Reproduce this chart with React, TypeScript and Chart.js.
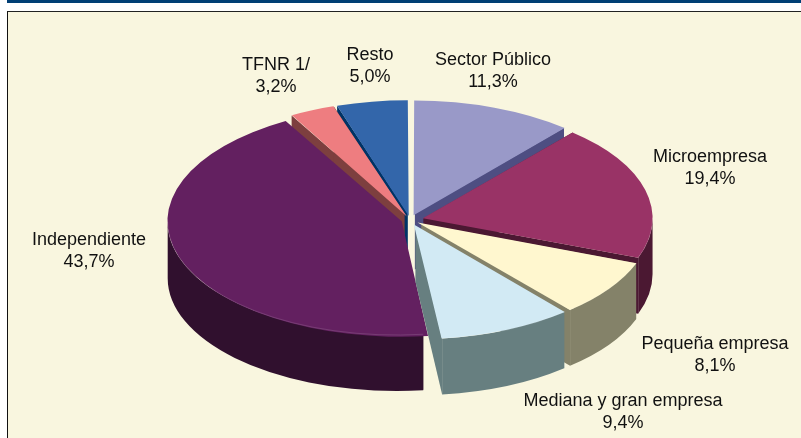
import React, { useEffect, useRef } from "react";
import { Chart, registerables } from "chart.js";

Chart.register(...registerables);

const categories = ["Sector Público", "Microempresa", "Pequeña empresa", "Mediana y gran empresa", "Independiente", "TFNR 1/", "Resto"];
const shares = [11.3, 19.4, 8.1, 9.4, 43.7, 3.2, 5.0];
const shareLabels = ["11,3%", "19,4%", "8,1%", "9,4%", "43,7%", "3,2%", "5,0%"];

const topColors = ["#9999C8", "#993366", "#FFF7CF", "#D2EAF4", "#632060", "#EE7D80", "#3366AA"];
const wallColors = ["#4E4E82", "#4B1832", "#848269", "#677F80", "#30102E", "#7D3F3F", "#003366"];

const labelAnchors: [number, number][] = [
  [493, 60], [710, 157], [715, 344], [623, 401], [89, 240], [276, 65], [370, 55],
];

const FLATTEN = 0.493;
const DEPTH = 56;
const EXPLODE = 14;
const RADIUS = 229;
const FONT = '18px "Liberation Sans", Arial, sans-serif';
const LINE = 21.8;

// Chart.js moves an arc by offset/4 * (2 - sin(sweep)); solve for a uniform explosion.
const total = shares.reduce((a, b) => a + b, 0);
const offsets = shares.map((v) => {
  const sweep = (v / total) * Math.PI * 2;
  return (EXPLODE * 4) / (2 - Math.sin(Math.min(Math.PI, sweep)));
});

const pie3d = {
  id: "pie3d",
  beforeDatasetsDraw(chart: any) {
    const { ctx } = chart;
    const arcs: any[] = chart.getDatasetMeta(0).data;
    const order = arcs
      .map((el, i) => ({ el, i, y: Math.sin((el.startAngle + el.endAngle) / 2) }))
      .sort((a, b) => a.y - b.y);
    for (const { el, i } of order) {
      const { startAngle: a0, endAngle: a1, outerRadius: r } = el;
      const mid = (a0 + a1) / 2;
      const ax = el.x + Math.cos(mid) * EXPLODE;
      const ay = el.y + Math.sin(mid) * EXPLODE * FLATTEN;
      const rimX = (a: number) => ax + Math.cos(a) * r;
      const rimY = (a: number) => ay + Math.sin(a) * r * FLATTEN;
      const from = Math.max(a0, 0);
      const to = Math.min(a1, Math.PI);

      ctx.save();
      ctx.fillStyle = wallColors[i];
      // cut faces
      for (const a of [a0, a1]) {
        ctx.beginPath();
        ctx.moveTo(ax, ay);
        ctx.lineTo(rimX(a), rimY(a));
        ctx.lineTo(rimX(a), rimY(a) + DEPTH);
        ctx.lineTo(ax, ay + DEPTH);
        ctx.closePath();
        ctx.fill();
      }
      // outer band, front half only
      if (to > from) {
        ctx.beginPath();
        ctx.ellipse(ax, ay, r, r * FLATTEN, 0, from, to, false);
        ctx.ellipse(ax, ay + DEPTH, r, r * FLATTEN, 0, to, from, true);
        ctx.closePath();
        ctx.fill();
      }
      ctx.restore();

      // top face, drawn by the library's own arc element
      ctx.save();
      ctx.translate(0, el.y * (1 - FLATTEN));
      ctx.scale(1, FLATTEN);
      el.draw(ctx);
      ctx.restore();

      // thin highlight along the front rim
      if (to > from) {
        ctx.save();
        ctx.strokeStyle = "rgba(255,255,255,0.18)";
        ctx.lineWidth = 0.7;
        ctx.beginPath();
        ctx.ellipse(ax, ay, r, r * FLATTEN, 0, from, to, false);
        ctx.stroke();
        ctx.restore();
      }
    }
    return false;
  },
  afterDraw(chart: any) {
    const { ctx } = chart;
    ctx.save();
    ctx.font = FONT;
    ctx.fillStyle = "#111111";
    ctx.textAlign = "center";
    ctx.textBaseline = "middle";
    categories.forEach((name, i) => {
      const [x, y] = labelAnchors[i];
      ctx.fillText(name, x, y);
      ctx.fillText(shareLabels[i], x, y + LINE);
    });
    ctx.restore();
  },
};

export default function App() {
  const ref = useRef<HTMLCanvasElement>(null);
  useEffect(() => {
    const chart = new Chart(ref.current!, {
      type: "pie",
      data: {
        labels: categories,
        datasets: [
          {
            data: shares,
            backgroundColor: topColors,
            borderWidth: 0,
            offset: offsets,
            radius: RADIUS,
          } as any,
        ],
      },
      options: {
        responsive: false,
        animation: false,
        rotation: 0,
        layout: { padding: { left: 19, right: 0, top: 2, bottom: 0 } },
        plugins: { legend: { display: false }, tooltip: { enabled: false } },
      },
      plugins: [pie3d],
    });
    return () => chart.destroy();
  }, []);

  return (
    <div style={{ position: "relative", width: 801, height: 438, overflow: "hidden", background: "#fff" }}>
      <style>{"body{margin:0}"}</style>
      <div style={{ position: "absolute", left: 7, top: 0, right: 0, height: 3, background: "#003F75" }} />
      <div
        style={{
          position: "absolute", left: 7, top: 11, right: 0, bottom: 0,
          background: "#F9F6DF", borderLeft: "1.5px solid #111", borderTop: "1.5px solid #222",
        }}
      />
      <canvas ref={ref} width={801} height={438} style={{ position: "absolute", left: 0, top: 0, display: "block" }} />
    </div>
  );
}
